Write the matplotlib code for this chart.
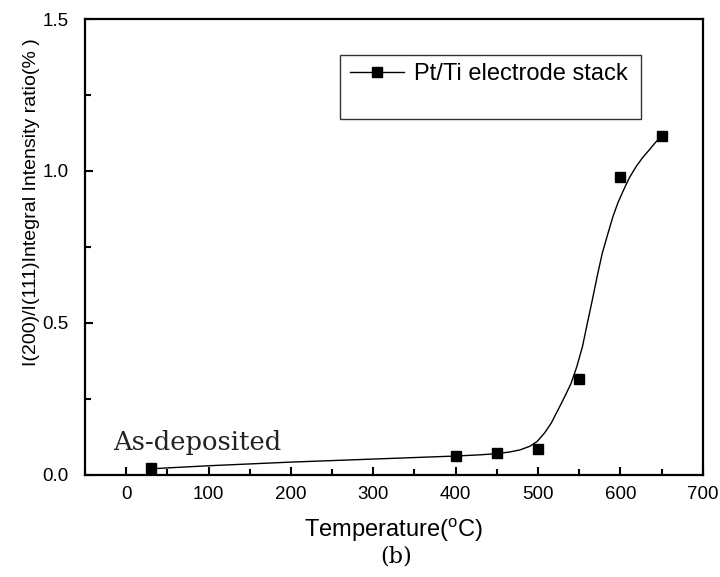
import numpy as np
import matplotlib.pyplot as plt
from matplotlib.patches import Rectangle
from matplotlib.ticker import MultipleLocator

# measured points
temp = [30, 400, 450, 500, 550, 600, 650]
ratio = [0.022, 0.062, 0.071, 0.085, 0.315, 0.981, 1.115]

# fitted curve
fit_x = [30, 100, 200, 300, 400, 430, 450, 465, 478, 490, 499, 508, 516, 524, 532, 540, 547, 554, 560,
         566, 572, 578, 585, 591, 597, 603, 611, 619, 627, 635, 642, 650]
fit_y = [0.020, 0.030, 0.042, 0.052, 0.062, 0.066, 0.070, 0.075, 0.082, 0.094, 0.110, 0.138, 0.170,
         0.212, 0.255, 0.300, 0.355, 0.422, 0.500, 0.576, 0.655, 0.729, 0.795, 0.850, 0.895, 0.932,
         0.978, 1.014, 1.044, 1.069, 1.092, 1.115]

plt.rcParams['font.family'] = ['Liberation Sans', 'DejaVu Sans']

fig = plt.figure(figsize=(7.2, 5.77), dpi=100)
ax = fig.add_axes([0.118, 0.177, 0.858, 0.790])

ax.plot(fit_x, fit_y, color='black', lw=1.0)
ax.plot(temp, ratio, 's', color='black', ms=6.5)

ax.set_xlim(-50, 700)
ax.set_ylim(0, 1.5)
ax.xaxis.set_major_locator(MultipleLocator(100))
ax.xaxis.set_minor_locator(MultipleLocator(50))
ax.yaxis.set_major_locator(MultipleLocator(0.5))
ax.yaxis.set_minor_locator(MultipleLocator(0.25))
ax.yaxis.set_major_formatter(plt.FormatStrFormatter('%.1f'))
ax.tick_params(which='both', direction='in', width=1.5)
ax.tick_params(which='major', length=6)
ax.tick_params(which='minor', length=4)
ax.tick_params(axis='x', which='major', labelsize=13.5, pad=8)
ax.tick_params(axis='y', which='major', labelsize=13.5, pad=12)
for s in ax.spines.values():
    s.set_linewidth(1.6)

ax.set_xlabel('Temperature($\\mathregular{^{o}}$C)', fontsize=17, labelpad=10)
ax.set_ylabel('I(200)/I(111)Integral Intensity ratio(% )', fontsize=14)
ax.yaxis.set_label_coords(-0.072, 0.599)

# legend box with empty space under the entry
ax.add_patch(Rectangle((0.413, 0.781), 0.487, 0.140, transform=ax.transAxes,
                       fill=False, edgecolor='#333333', lw=1.0))
h, = ax.plot([], [], '-s', color='black', ms=6.5, lw=1.0)
ax.legend([h], ['Pt/Ti electrode stack'], loc='center left', bbox_to_anchor=(0.429, 0.879),
          frameon=False, fontsize=17, handlelength=2.3, handletextpad=0.4,
          borderpad=0, borderaxespad=0)

ax.text(-16, 0.082, 'As-deposited', fontsize=18.5, family='DejaVu Serif', va='baseline', color='#222222')
fig.text(0.55, 0.035, '(b)', fontsize=16, family='DejaVu Serif', ha='center', va='center')

fig.savefig('out.png', dpi=100)
